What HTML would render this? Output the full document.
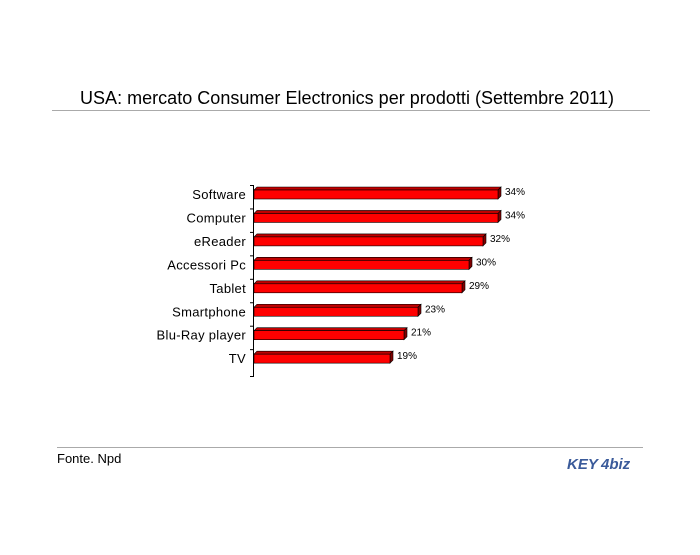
<!DOCTYPE html>
<html><head><style>
body{margin:0;background:#fff;}
svg text{font-family:"Liberation Sans",Arial,sans-serif;}
</style></head><body>
<svg width="700" height="550" xmlns="http://www.w3.org/2000/svg">
<rect width="700" height="550" fill="#fff"/>
<text x="347" y="104" font-size="18" text-anchor="middle" fill="#000" textLength="534">USA: mercato Consumer Electronics per prodotti (Settembre 2011)</text>
<line x1="52" y1="110.5" x2="650" y2="110.5" stroke="#aaa" stroke-width="1"/>
<line x1="57" y1="447.5" x2="643" y2="447.5" stroke="#aaa" stroke-width="1"/>
<text x="57" y="463" font-size="13" fill="#000">Fonte. Npd</text>
<text x="567" y="469" font-size="15" font-weight="bold" font-style="italic" fill="#3a5a9a">KEY</text>
<text x="601" y="469" font-size="15" font-weight="bold" font-style="italic" fill="#3a5a9a">4biz</text>
<line x1="253.5" y1="186" x2="253.5" y2="377" stroke="#000"/>
<g id="bars"></g>
</svg>
<script>
var d=[["Software",498,"34%"],["Computer",498,"34%"],["eReader",483,"32%"],["Accessori Pc",469,"30%"],["Tablet",462,"29%"],["Smartphone",418,"23%"],["Blu-Ray player",404,"21%"],["TV",390,"19%"]];
var s="";
for(var i=0;i<d.length;i++){
var y=190+i*23.45,x0=254,x1=d[i][1];
s+='<line x1="250" y1="'+(y-4.5)+'" x2="254" y2="'+(y-4.5)+'" stroke="#000"/>';
s+='<polygon points="'+x0+','+y+' '+(x0+3)+','+(y-3)+' '+(x1+3)+','+(y-3)+' '+x1+','+y+'" fill="#c00000" stroke="#000" stroke-width="0.6"/>';
s+='<polygon points="'+x1+','+y+' '+(x1+3)+','+(y-3)+' '+(x1+3)+','+(y+6)+' '+x1+','+(y+9)+'" fill="#800000" stroke="#000" stroke-width="0.6"/>';
s+='<rect x="'+x0+'" y="'+y+'" width="'+(x1-x0)+'" height="9" fill="#ff0000" stroke="#000" stroke-width="0.6"/>';
s+='<text x="246" y="'+(y+9)+'" font-size="13" text-anchor="end" letter-spacing="0.3">'+d[i][0]+'</text>';
s+='<text x="'+(x1+7)+'" y="'+(y+5)+'" font-size="10">'+d[i][2]+'</text>';
}
s+='<line x1="250" y1="376.5" x2="254" y2="376.5" stroke="#000"/>';
document.getElementById("bars").innerHTML=s;
</script>
</body></html>
